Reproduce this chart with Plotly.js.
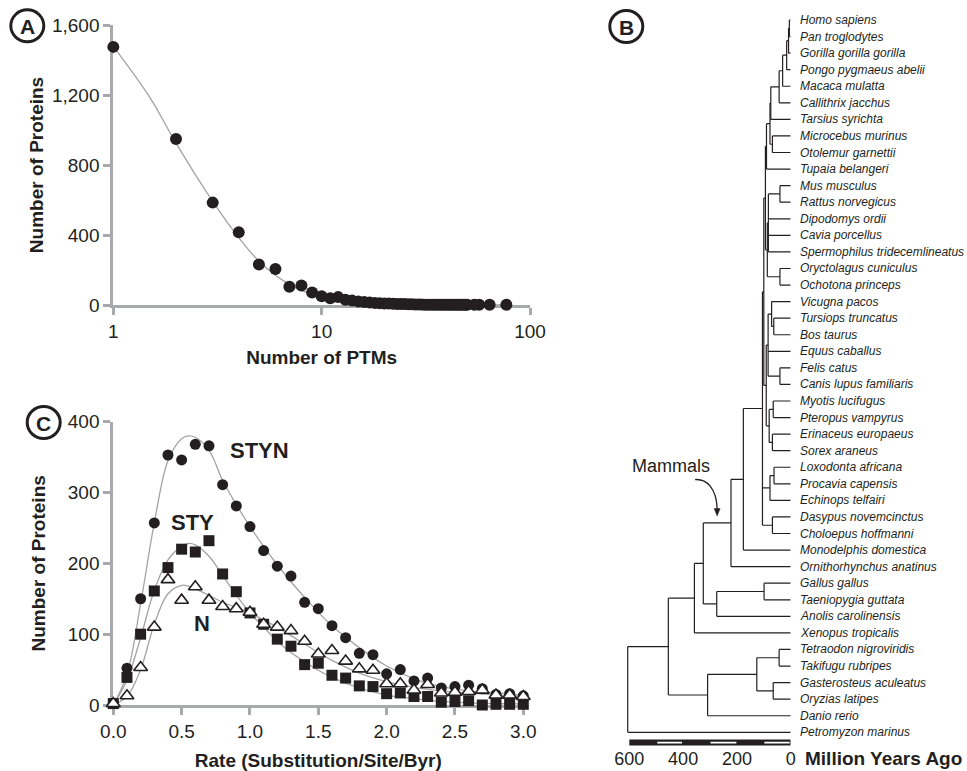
<!DOCTYPE html>
<html><head><meta charset="utf-8">
<script src="https://cdn.plot.ly/plotly-3.0.1.min.js"></script>
<style>html,body{margin:0;padding:0;background:#fff}#chart{width:967px;height:771px}</style>
</head><body><div id="chart"></div>
<script>
// ---------- Panel A: number of PTMs per protein ----------
const ptmCounts = [1,2,3,4,5,6,7,8,9,10,11,12,13,14,15,16,17,18,19,20,21,22,23,24,25,26,27,28,29,30,31,32,33,34,35,36,37,38,39,40,41,42,43,44,45,46,47,48,49,50,54,57,64,77];
const ptmProteins = [1475,949,585,415,232,206,104,112,71,50,38,45,30,25,20,17,14,12,10,9,8,7,6,5,5,4,4,3,3,3,2,2,2,2,2,2,1,1,1,1,1,1,1,1,1,1,1,1,1,1,1,1,1,1];
const ptmFitX = [1,1.5,2,3,4,5,6,7,8,10,12,15,20,30,50,77];
const ptmFitY = [1478,1185,925,592,385,250,170,118,84,45,27,14,5,1,0,0];
const ptmTicksY = [0,400,800,1200,1600];
const ptmTicksX = [1,10,100];

// ---------- Panel C: evolutionary rate distribution ----------
const rateBins = [0.0,0.1,0.2,0.3,0.4,0.5,0.6,0.7,0.8,0.9,1.0,1.1,1.2,1.3,1.4,1.5,1.6,1.7,1.8,1.9,2.0,2.1,2.2,2.3,2.4,2.5,2.6,2.7,2.8,2.9,3.0];
const stynCounts = [2,52,150,257,353,346,368,366,311,281,252,218,196,182,145,136,112,95,73,71,44,50,34,38,24,26,28,23,15,16,13];
const styCounts  = [2,39,100,161,194,220,216,232,185,160,130,114,93,83,57,59,42,38,27,26,16,17,12,12,4,5,6,0,1,1,1];
const nCounts    = [2,13,53,110,177,148,167,148,139,136,131,114,110,105,90,72,77,62,51,49,30,30,21,29,17,18,19,21,14,14,12];
const fitRate = [0,0.1,0.2,0.3,0.4,0.5,0.55,0.6,0.7,0.8,0.9,1.0,1.1,1.2,1.3,1.4,1.5,1.6,1.8,2.0,2.2,2.4,2.6,2.8,3.0];
const stynFit = [0,43,143,257,345,376,380,378,360,317,283,252,224,198,174,152,131,112,81,55,37,26,20,17,14];
const styFit  = [0,35,95,162,205,224,228,226,210,183,155,130,110,90,74,61,49,39,24,14,9,5,3,2,1.5];
const nFit    = [0,12,50,114,157,169,168,164,155,145,138,130,120,110,98,86,74,63,45,33,25,20,17,14,12];
const seriesLabels = ['STYN','STY','N'];
const labelRate = [1.07,0.58,0.65];
const labelCount = [360,257,115];
const rateTicks = [0,0.5,1.0,1.5,2.0,2.5,3.0];
const countTicks = [0,100,200,300,400];

// ---------- Panel B: species tree ----------
const species = ['Homo sapiens','Pan troglodytes','Gorilla gorilla gorilla','Pongo pygmaeus abelii','Macaca mulatta','Callithrix jacchus','Tarsius syrichta','Microcebus murinus','Otolemur garnettii','Tupaia belangeri','Mus musculus','Rattus norvegicus','Dipodomys ordii','Cavia porcellus','Spermophilus tridecemlineatus','Oryctolagus cuniculus','Ochotona princeps','Vicugna pacos','Tursiops truncatus','Bos taurus','Equus caballus','Felis catus','Canis lupus familiaris','Myotis lucifugus','Pteropus vampyrus','Erinaceus europaeus','Sorex araneus','Loxodonta africana','Procavia capensis','Echinops telfairi','Dasypus novemcinctus','Choloepus hoffmanni','Monodelphis domestica','Ornithorhynchus anatinus','Gallus gallus','Taeniopygia guttata','Anolis carolinensis','Xenopus tropicalis','Tetraodon nigroviridis','Takifugu rubripes','Gasterosteus aculeatus','Oryzias latipes','Danio rerio','Petromyzon marinus'];
// nodes: [age (Myr), [children]] ; leaves are indices into species
const primates = [77, [[74, [[43, [[30, [[15, [[8, [[5, [0,1]], 2]], 3]], 4]], 5]], 6]], [68, [7,8]]]];
const glires = [87, [[83, [[40, [10,11]], 12, 13, 14]], [40, [15,16]]]];
const laurasiatheria = [91, [[84, [[71, [17, [63, [18,19]]]], 20, [40, [21,22]]]], [80, [[65, [23,24]], [68, [25,26]]]]]];
const placentals = [105, [[100, [[94, [[90, [primates, 9]], glires]], laurasiatheria]], [77, [[62, [27,28]], 29]], [68, [30,31]]]];
const mammals = [222, [[176, [placentals, 32]], 33]];
const amniotes = [325, [mammals, [275, [[99, [34,35]], 36]]]];
const fishes = [309, [[126, [[43, [38,39]], [65, [40,41]]]], 42]];
const tree = [606, [[455, [[358, [amniotes, 37]], fishes]], 43]];
const ageTicks = [600,400,200,0];
const scaleBarWhite = [[496,404],[298,202],[98,4]];

// ---------- build tree segments ----------
const segX = [], segY = [], nodePos = {};
function place(node){
  if (typeof node === 'number') return {x:0, y:node};
  const age = node[0], kids = node[1].map(place);
  const ys = kids.map(k=>k.y), y0 = Math.min(...ys), y1 = Math.max(...ys);
  segX.push(age, age, null); segY.push(y0, y1, null);
  kids.forEach(k=>{ segX.push(age, k.x, null); segY.push(k.y, k.y, null); });
  const p = {x:age, y:(y0+y1)/2};
  nodePos[age] = p;
  return p;
}
place(tree);

const ink = '#231f20', axisGray = '#a7a9ac', fitGray = '#a3a3a3';
const baseFont = 'Liberation Sans, Arial, Helvetica, sans-serif';

const traces = [
  {x: ptmFitX, y: ptmFitY, mode:'lines', line:{color:fitGray, width:1.3, shape:'spline', smoothing:1}, xaxis:'x', yaxis:'y', hoverinfo:'skip'},
  {x: ptmCounts, y: ptmProteins, mode:'markers', marker:{color:ink, size:12, symbol:'circle'}, xaxis:'x', yaxis:'y', cliponaxis:false},
  {x: fitRate, y: stynFit, mode:'lines', line:{color:fitGray, width:1.3, shape:'spline', smoothing:1}, xaxis:'x2', yaxis:'y2', hoverinfo:'skip'},
  {x: fitRate, y: styFit, mode:'lines', line:{color:fitGray, width:1.3, shape:'spline', smoothing:1}, xaxis:'x2', yaxis:'y2', hoverinfo:'skip'},
  {x: fitRate, y: nFit, mode:'lines', line:{color:fitGray, width:1.3, shape:'spline', smoothing:1}, xaxis:'x2', yaxis:'y2', hoverinfo:'skip'},
  {x: rateBins, y: stynCounts, mode:'markers', name:'STYN', marker:{color:ink, size:11, symbol:'circle'}, xaxis:'x2', yaxis:'y2', cliponaxis:false},
  {x: rateBins, y: styCounts, mode:'markers', name:'STY', marker:{color:ink, size:11, symbol:'square'}, xaxis:'x2', yaxis:'y2', cliponaxis:false},
  {x: rateBins, y: nCounts, mode:'markers', name:'N', marker:{color:'#ffffff', size:12, symbol:'triangle-up', line:{color:ink, width:1.6}}, xaxis:'x2', yaxis:'y2', cliponaxis:false},
  {x: segX, y: segY, mode:'lines', line:{color:ink, width:1.2}, xaxis:'x3', yaxis:'y3', hoverinfo:'skip', cliponaxis:false}
];

const axisCommon = {showgrid:false, zeroline:false, showline:true, linecolor:axisGray, linewidth:3, ticks:'outside', ticklen:7, tickwidth:3, tickcolor:axisGray, tickfont:{family:baseFont, size:19, color:ink}, layer:'below traces', fixedrange:true};
const titleFont = {family:baseFont, size:19, color:ink, weight:'bold'};

const px = v => v/967, py = v => 1 - v/771;

const annotations = [];
seriesLabels.forEach((t,i)=>annotations.push({x:labelRate[i], y:labelCount[i], xref:'x2', yref:'y2', text:'<b>'+t+'</b>', showarrow:false, font:{family:baseFont, size:22, color:ink}}));
species.forEach((s,i)=>annotations.push({x:0, y:i, xref:'x3', yref:'y3', text:s, showarrow:false, xanchor:'left', yanchor:'middle', xshift:7, font:{family:baseFont, size:12, color:ink, style:'italic'}}));
annotations.push({x:px(803), y:py(758), xref:'paper', yref:'paper', xanchor:'left', yanchor:'middle', text:'<b>Million Years Ago</b>', showarrow:false, font:{family:baseFont, size:19, color:ink}});
// panel letters
const letters = [['A',27.3,25.8],['B',626.3,26.5],['C',43.7,422.5]];
letters.forEach(l=>annotations.push({x:px(l[1]), y:py(l[2]+1), xref:'paper', yref:'paper', text:'<b>'+l[0]+'</b>', showarrow:false, xanchor:'center', yanchor:'middle', font:{family:baseFont, size:21, color:ink}}));

// mammals arrow (relative to the mammal stem)
const mam = nodePos[222], amn = nodePos[325];
const tipX = (mam.x + amn.x)/2, tipY = mam.y - 0.42;
annotations.push({x:tipX + 172, y:tipY - 3.0, xref:'x3', yref:'y3', text:'Mammals', showarrow:false, font:{family:baseFont, size:18, color:ink}});

const shapes = [];
letters.forEach(l=>shapes.push({type:'circle', xref:'paper', yref:'paper', x0:px(l[1]-16.5), x1:px(l[1]+16.5), y0:py(l[2]+16), y1:py(l[2]-16), line:{color:ink, width:3}}));
shapes.push({type:'path', xref:'x3', yref:'y3', path:`M ${tipX+82} ${tipY-2.2} C ${tipX+40} ${tipY-2.25}, ${tipX+2} ${tipY-1.7}, ${tipX} ${tipY-0.42}`, line:{color:ink, width:1.3}});
shapes.push({type:'path', xref:'x3', yref:'y3', path:`M ${tipX+11} ${tipY-0.45} L ${tipX-11} ${tipY-0.45} L ${tipX} ${tipY} Z`, fillcolor:ink, line:{color:ink, width:0.5}});
// scale bar
shapes.push({type:'rect', xref:'x3', yref:'y3', x0:ageTicks[0], x1:ageTicks[ageTicks.length-1], y0:43.44, y1:43.80, fillcolor:ink, line:{width:0}});
scaleBarWhite.forEach(w=>shapes.push({type:'rect', xref:'x3', yref:'y3', x0:w[0], x1:w[1], y0:43.57, y1:43.67, fillcolor:'#ffffff', line:{width:0}}));

const layout = {
  width:967, height:771, autosize:false, margin:{l:0,r:0,t:0,b:0},
  paper_bgcolor:'#ffffff', plot_bgcolor:'rgba(0,0,0,0)', showlegend:false,
  font:{family:baseFont, color:ink},
  xaxis: Object.assign({}, axisCommon, {type:'log', domain:[px(113.3), px(530)], range:[0,2], tickvals:ptmTicksX, ticktext:['1','10','100'], anchor:'y',
    title:{text:'Number of PTMs', font:titleFont, standoff:10}}),
  yaxis: Object.assign({}, axisCommon, {domain:[py(305), py(25)], range:[0,1600], tickvals:ptmTicksY, tickformat:',', anchor:'x',
    title:{text:'Number of Proteins', font:titleFont, standoff:4}}),
  xaxis2: Object.assign({}, axisCommon, {domain:[px(113.3), px(523.3)], range:[0,3], tickvals:rateTicks, tickformat:'.1f', anchor:'y2',
    title:{text:'Rate (Substitution/Site/Byr)', font:titleFont, standoff:14}}),
  yaxis2: Object.assign({}, axisCommon, {domain:[py(705), py(421.7)], range:[0,400], tickvals:countTicks, anchor:'x2',
    title:{text:'Number of Proteins', font:titleFont, standoff:18}}),
  xaxis3: {domain:[px(626.1), px(790.7)], range:[612,0], showgrid:false, zeroline:false, showline:false, ticks:'', tickvals:ageTicks, tickfont:{family:baseFont, size:18, color:ink}, anchor:'free', position:py(746), fixedrange:true},
  yaxis3: {domain:[py(750), py(10)], range:[44.0688,-0.6037], visible:false, anchor:'x3', fixedrange:true},
  annotations, shapes
};
Plotly.newPlot('chart', traces, layout, {displayModeBar:false, staticPlot:true});
</script></body></html>
